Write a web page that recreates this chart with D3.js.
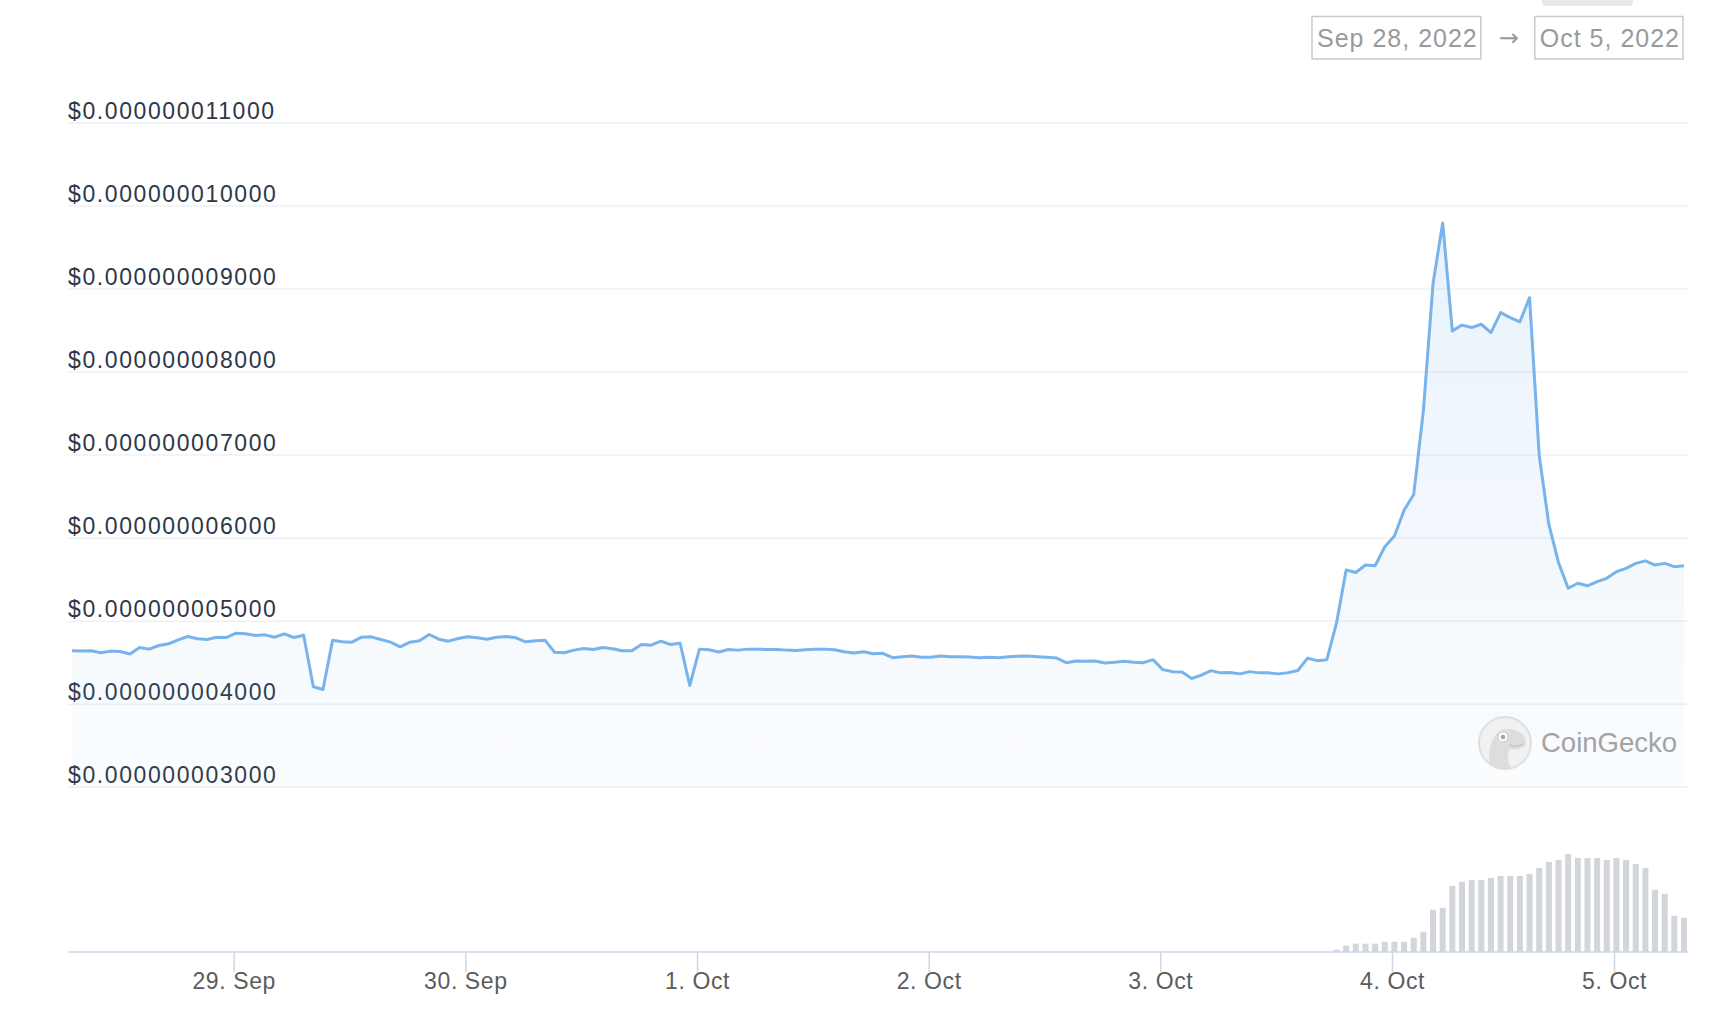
<!DOCTYPE html>
<html>
<head>
<meta charset="utf-8">
<script src="https://cdn.jsdelivr.net/npm/d3@7/dist/d3.min.js"></script>
<style>
  body { margin: 0; background: #fff; }
  svg { display: block; font-family: "Liberation Sans", Arial, sans-serif; }
</style>
</head>
<body>
<div id="chart"></div>
<script>
// hourly price, in units of $0.000000001
const prices = [
  4.637, 4.633, 4.637, 4.614, 4.633, 4.629, 4.598, 4.677, 4.657, 4.701,
  4.721, 4.769, 4.809, 4.781, 4.773, 4.801, 4.797, 4.849, 4.841, 4.821,
  4.829, 4.801, 4.841, 4.797, 4.825, 4.203, 4.171, 4.765, 4.745, 4.741,
  4.801, 4.805, 4.773, 4.741, 4.685, 4.741, 4.757, 4.833, 4.777, 4.753,
  4.785, 4.805, 4.793, 4.777, 4.801, 4.809, 4.793, 4.745, 4.757, 4.765,
  4.618, 4.614, 4.645, 4.665, 4.653, 4.677, 4.661, 4.637, 4.637, 4.713,
  4.705, 4.753, 4.713, 4.729, 4.219, 4.657, 4.649, 4.622, 4.653, 4.645,
  4.657, 4.657, 4.653, 4.653, 4.645, 4.641, 4.649, 4.657, 4.657, 4.649,
  4.625, 4.610, 4.625, 4.602, 4.606, 4.554, 4.566, 4.574, 4.558, 4.558,
  4.574, 4.566, 4.566, 4.562, 4.554, 4.558, 4.554, 4.566, 4.570, 4.574,
  4.566, 4.558, 4.550, 4.494, 4.514, 4.510, 4.514, 4.490, 4.498, 4.510,
  4.498, 4.494, 4.530, 4.410, 4.386, 4.382, 4.303, 4.343, 4.398, 4.371,
  4.375, 4.359, 4.386, 4.371, 4.371, 4.359, 4.374, 4.400, 4.549, 4.518,
  4.530, 4.970, 5.610, 5.580, 5.670, 5.660, 5.890, 6.020, 6.330, 6.520,
  7.530, 9.060, 9.790, 8.490, 8.560, 8.530, 8.570, 8.470, 8.710, 8.650,
  8.600, 8.890, 6.990, 6.160, 5.700, 5.390, 5.450, 5.420, 5.470, 5.510,
  5.590, 5.630, 5.690, 5.720, 5.670, 5.690, 5.650, 5.660
];

// volume of the last hours (earlier hours have no bar)
const volumes = [
  7, 19, 25, 25, 25, 31, 31, 31, 43, 61,
  127, 133, 199, 211, 217, 217, 223, 229, 229, 229,
  235, 253, 271, 277, 295, 283, 283, 283, 277, 283,
  277, 265, 253, 187, 175, 109, 103
];

const firstHour = new Date(2022, 8, 28, 7, 15);
const missingHour = new Date(2022, 9, 4, 12, 15);

const tickDates = [
  new Date(2022, 8, 29), new Date(2022, 8, 30), new Date(2022, 9, 1),
  new Date(2022, 9, 2), new Date(2022, 9, 3), new Date(2022, 9, 4), new Date(2022, 9, 5)
];
const xTickLabels = ["29. Sep", "30. Sep", "1. Oct", "2. Oct", "3. Oct", "4. Oct", "5. Oct"];
const yTicks = [3, 4, 5, 6, 7, 8, 9, 10, 11];
const rangeLabels = ["Sep 28, 2022", "Oct 5, 2022"];

var width = 1728;
var height = 1024;
var plotLeft = 68, plotRight = 1688;
var axisY = 952;

// hourly timestamps (one hour missing in the feed)
var times = [];
var t = firstHour;
while (times.length < prices.length) {
    if (+t !== +missingHour) times.push(t);
    t = d3.timeHour.offset(t, 1);
}

// ordinal axis: points evenly spaced by index
var x = d3.scaleLinear()
    .domain([0, prices.length - 1])
    .range([plotLeft + 4, plotRight - 4]);

function ordinalPos(date) {
    var i = d3.bisectLeft(times, date);
    var a = times[i - 1], b = times[i];
    return i - 1 + (date - a) / (b - a);
}

var y = d3.scaleLinear()
    .domain([3, 11])
    .range([786.7, 122.5]);

var yVol = d3.scaleLinear()
    .domain([0, d3.max(volumes)])
    .range([axisY, axisY - 98]);

var svg = d3.select("#chart")
    .append("svg")
    .attr("width", width)
    .attr("height", height);

// gradient under the line
var grad = svg.append("defs").append("linearGradient")
    .attr("id", "areaFill")
    .attr("gradientUnits", "userSpaceOnUse")
    .attr("x1", 0).attr("x2", 0)
    .attr("y1", y(d3.max(prices))).attr("y2", y(3));
grad.append("stop").attr("offset", 0).attr("stop-color", "#7cb5ec").attr("stop-opacity", 0.17);
grad.append("stop").attr("offset", 1).attr("stop-color", "#7cb5ec").attr("stop-opacity", 0.035);

// grid lines + price labels
var fmt = d3.format("$.12f");
var yAxis = svg.append("g")
    .attr("transform", "translate(" + plotLeft + ",0)")
    .call(d3.axisRight(y)
        .tickValues(yTicks)
        .tickSize(plotRight - plotLeft)
        .tickFormat(function(d) { return fmt(d * 1e-9); }));
yAxis.select(".domain").remove();
yAxis.selectAll("line").attr("stroke", "#eff0f2").attr("stroke-width", 1.5);
yAxis.selectAll("text")
    .attr("x", 0)
    .attr("y", -4)
    .attr("dy", null)
    .attr("text-anchor", "start")
    .attr("fill", "#2d3748")
    .style("font-size", "23px")
    .style("letter-spacing", "1.6px");

// area + line
var area = d3.area()
    .x(function(d, i) { return x(i); })
    .y0(y(3))
    .y1(function(d) { return y(d); });

var line = d3.line()
    .x(function(d, i) { return x(i); })
    .y(function(d) { return y(d); });

svg.append("path")
    .datum(prices)
    .attr("d", area)
    .attr("fill", "url(#areaFill)");

svg.append("path")
    .datum(prices)
    .attr("d", line)
    .attr("fill", "none")
    .attr("stroke", "#78b3eb")
    .attr("stroke-width", 3)
    .attr("stroke-linejoin", "round");

// volume bars
var volStart = prices.length - volumes.length;
svg.append("g").selectAll("rect")
    .data(volumes)
    .enter()
    .append("rect")
    .attr("x", function(d, i) { return x(volStart + i) - 3; })
    .attr("width", 6)
    .attr("y", function(d) { return yVol(d); })
    .attr("height", function(d) { return axisY - yVol(d); })
    .attr("fill", "#d2d5da");

// x axis
var xAxis = svg.append("g")
    .attr("transform", "translate(0," + axisY + ")")
    .call(d3.axisBottom(x)
        .tickValues(tickDates.map(ordinalPos))
        .tickSize(20)
        .tickSizeOuter(0)
        .tickPadding(1)
        .tickFormat(function(d, i) { return xTickLabels[i]; }));
xAxis.select(".domain").remove();
xAxis.selectAll("line").attr("stroke", "#ccd6eb").attr("stroke-width", 1.5);
xAxis.selectAll("text")
    .attr("fill", "#5c5c5c")
    .style("font-size", "23px")
    .style("letter-spacing", "0.6px");

svg.append("line")
    .attr("x1", plotLeft).attr("x2", plotRight)
    .attr("y1", axisY).attr("y2", axisY)
    .attr("stroke", "#ccd6eb")
    .attr("stroke-width", 1.5);

// CoinGecko watermark
var wm = svg.append("g")
    .attr("transform", "translate(1505,743)")
    .attr("opacity", 0.9);
wm.append("clipPath").attr("id", "logoClip")
    .append("circle").attr("r", 26);
wm.append("circle")
    .attr("r", 26)
    .attr("fill", "#f0f0f0")
    .attr("stroke", "#dcdcdc")
    .attr("stroke-width", 2);
wm.append("path")
    .attr("clip-path", "url(#logoClip)")
    .attr("d", "M-15,27 C-18,6 -13,-12 1,-14 C12,-15 21,-8 21,-1 C21,5 13,7 5,6 C1,11 3,19 7,27 Z")
    .attr("fill", "#dadada");
wm.append("circle").attr("cx", -2).attr("cy", -6).attr("r", 5).attr("fill", "#fff").attr("stroke", "#c4c4c4");
wm.append("circle").attr("cx", -2).attr("cy", -6).attr("r", 2.3).attr("fill", "#9c9c9c");
wm.append("path").attr("d", "M4,2 Q11,5 18,1").attr("fill", "none").attr("stroke", "#c4c4c4").attr("stroke-width", 1.5);
svg.append("text")
    .attr("x", 1541)
    .attr("y", 752)
    .attr("fill", "#a3a3a3")
    .style("font-size", "27.5px")
    .text("CoinGecko");

// date range boxes, laid out from the right
svg.append("rect")
    .attr("x", 1542).attr("y", -6)
    .attr("width", 91).attr("height", 12)
    .attr("rx", 4)
    .attr("fill", "#e9e9e9");

var boxRight = 1685;
for (var k = rangeLabels.length - 1; k >= 0; k--) {
    var tx = svg.append("text")
        .attr("x", boxRight - 5)
        .attr("y", 47)
        .attr("text-anchor", "end")
        .attr("fill", "#9a9a9a")
        .style("font-size", "25px")
        .style("letter-spacing", "1px")
        .text(rangeLabels[k]);
    var bb = tx.node().getBBox();
    svg.append("rect")
        .attr("x", bb.x - 5)
        .attr("y", 16.5)
        .attr("width", bb.width + 8)
        .attr("height", 42.5)
        .attr("fill", "none")
        .attr("stroke", "#cacaca")
        .attr("stroke-width", 1.5);
    if (k > 0) {
        svg.append("text")
            .attr("x", bb.x - 5 - 26)
            .attr("y", 46)
            .attr("text-anchor", "middle")
            .attr("fill", "#9a9a9a")
            .style("font-family", "'DejaVu Sans', sans-serif")
            .style("font-size", "24px")
            .text("→");
        boxRight = bb.x - 5 - 52;
    }
}
</script>
</body>
</html>
